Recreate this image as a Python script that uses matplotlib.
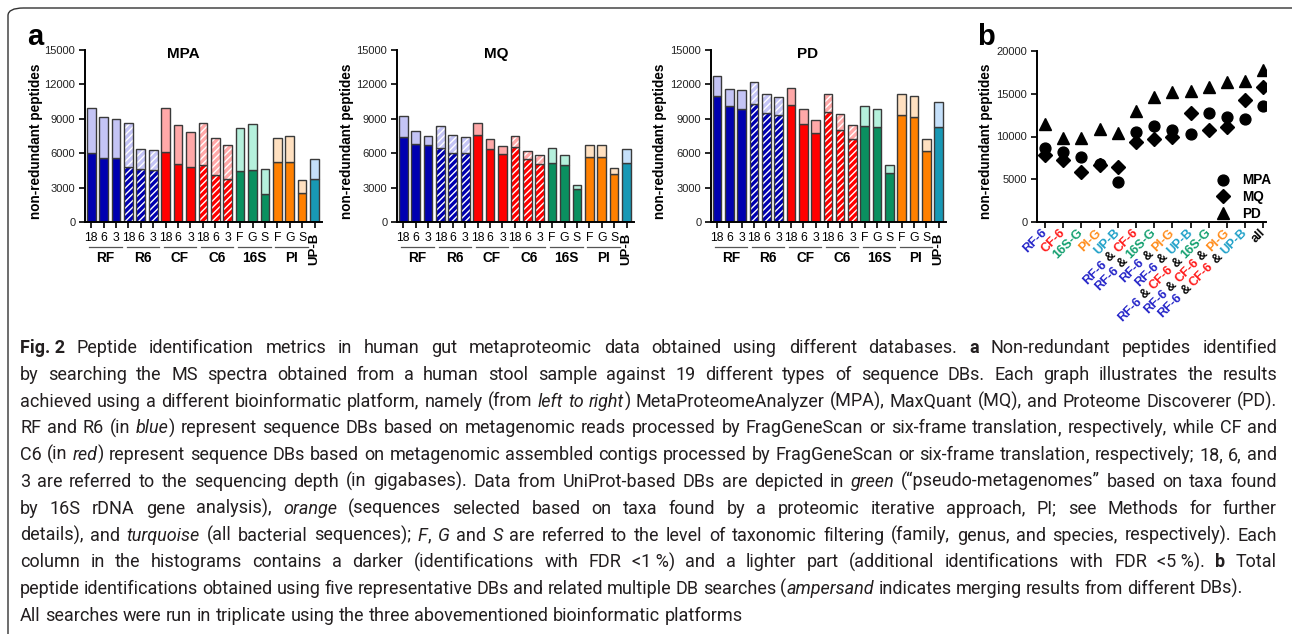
import matplotlib
matplotlib.use("Agg")
import matplotlib.pyplot as plt
from matplotlib import font_manager
from matplotlib.patches import FancyBboxPatch
import numpy as np

W, H = 1292, 634

# ---- panel a data (non-redundant peptides, FDR<5% total and FDR<1% part) ----
sub_labels = ["18", "6", "3", "18", "6", "3", "18", "6", "3", "18", "6", "3",
              "F", "G", "S", "F", "G", "S", ""]
groups = ["RF", "R6", "CF", "C6", "16S", "PI"]
group_start = [0, 3, 6, 9, 12, 15]

mpa_total = [9980, 9190, 9020, 8670, 6390, 6270, 9980, 8490, 7820, 8640, 7300, 6710,
             8200, 8520, 4580, 7350, 7470, 3650, 5520]
mpa_fdr1 = [6040, 5540, 5540, 4760, 4610, 4550, 6130, 5080, 4790, 4990, 4110, 3760,
            4490, 4550, 2480, 5190, 5250, 2510, 3710]

mq_total = [9220, 7940, 7500, 8350, 7620, 7410, 8640, 7210, 6620, 7530, 6220, 5810,
            6420, 5840, 3240, 6710, 6710, 4670, 6360]
mq_fdr1 = [7380, 6770, 6680, 6450, 6010, 5980, 7620, 6330, 5890, 6570, 5490, 5080,
           5140, 4990, 2860, 5660, 5660, 4170, 5140]

pd_total = [12690, 11610, 11470, 12230, 11120, 10940, 11700, 9890, 8870, 11200, 9430, 8490,
            10100, 9890, 4990, 11150, 10970, 7240, 10500]
pd_fdr1 = [10970, 10100, 9860, 10330, 9540, 9310, 10240, 8550, 7760, 9630, 8050, 7210,
           8370, 8260, 4230, 9310, 9160, 6190, 8320]

# ---- panel b data ----
b_mpa = [8680, 8140, 7560, 6750, 4650, 10540, 11240, 10780, 10270, 12790, 12330, 12020, 13570]
b_mq = [7870, 7210, 5810, 6670, 6400, 9340, 9730, 10000, 12790, 10780, 11090, 14260, 15810]
b_pd = [11510, 9770, 9810, 10850, 10390, 12980, 14650, 15230, 15350, 15780, 16320, 16470, 17750]

BLUE, RED, GREEN, ORANGE, TEAL, BLACK = "#2424c8", "#ff1a1a", "#14a070", "#ff8c1a", "#1ea0c8", "#000000"
b_labels = [
    [("RF-6", BLUE)], [("CF-6", RED)], [("16S-G", GREEN)], [("PI-G", ORANGE)], [("UP-B", TEAL)],
    [("RF-6", BLUE), ("&", BLACK), ("CF-6", RED)],
    [("RF-6", BLUE), ("&", BLACK), ("16S-G", GREEN)],
    [("RF-6", BLUE), ("&", BLACK), ("PI-G", ORANGE)],
    [("RF-6", BLUE), ("&", BLACK), ("UP-B", TEAL)],
    [("RF-6", BLUE), ("&", BLACK), ("CF-6", RED), ("&", BLACK), ("16S-G", GREEN)],
    [("RF-6", BLUE), ("&", BLACK), ("CF-6", RED), ("&", BLACK), ("PI-G", ORANGE)],
    [("RF-6", BLUE), ("&", BLACK), ("CF-6", RED), ("&", BLACK), ("UP-B", TEAL)],
    [("all", BLACK)],
]

# dark (FDR<1%) / light colours per bar, hatch for six-frame DBs
dark_cols = ["#0000b0"] * 6 + ["#ff0000"] * 6 + ["#0a9060"] * 3 + ["#ff8000"] * 3 + ["#1898b5"]
light_cols = ["#c4c4f5"] * 6 + ["#ffa8a8"] * 6 + ["#b5f0dc"] * 3 + ["#ffe0c0"] * 3 + ["#c5e0fa"]
hatched = [False] * 3 + [True] * 3 + [False] * 3 + [True] * 3 + [False] * 7

plt.rcParams['font.family'] = ['Liberation Sans', 'DejaVu Sans']
EDGE = "#3a3a3a"

fig = plt.figure(figsize=(W / 100, H / 100), dpi=100)


def add_ax(l, t, r, b):
    return fig.add_axes([l / W, 1 - b / H, (r - l) / W, (b - t) / H])


def style_axes(ax):
    for s in ("top", "right"):
        ax.spines[s].set_visible(False)
    for s in ("left", "bottom"):
        ax.spines[s].set_linewidth(1.4)
    ax.tick_params(length=4.5, width=1.2, labelsize=8, colors="black")
    ax.tick_params(axis="y", labelcolor="#222222", pad=2.5)


def bar_panel(ax, total, fdr1):
    x = np.arange(len(total))
    light = np.array(total) - np.array(fdr1)
    for i in x:
        for bottom, h, col in ((0, fdr1[i], dark_cols[i]), (fdr1[i], light[i], light_cols[i])):
            if hatched[i]:
                ax.bar(i, h, bottom=bottom, width=0.7, color=col, hatch="/////",
                       edgecolor="white", linewidth=0)
                ax.bar(i, h, bottom=bottom, width=0.7, fill=False, edgecolor=EDGE, linewidth=1.0)
            else:
                ax.bar(i, h, bottom=bottom, width=0.7, color=col, edgecolor=EDGE, linewidth=1.0)
    style_axes(ax)
    ax.set_xlim(-0.5, 18.6)
    ax.set_ylim(0, 15000)
    ax.set_yticks([0, 3000, 6000, 9000, 12000, 15000])
    ax.set_xticks(x, sub_labels, fontsize=8.8)
    ax.tick_params(axis="x", pad=3)
    tr = ax.get_xaxis_transform()
    for g, s in zip(groups, group_start):
        ax.plot([s - 0.15, s + 2.45], [-0.145, -0.145], color="#555555", lw=0.9,
                transform=tr, clip_on=False)
        ax.text(s + 1.15, -0.207, g, transform=tr, ha="center", va="center",
                fontsize=9.8, weight="bold")
    ax.text(18, -0.06, "UP-B", transform=tr, rotation=90, ha="center", va="top",
            fontsize=9.5, weight="bold")


panels = [
    ((85, 50, 322, 222), mpa_total, mpa_fdr1, "MPA", 183, 36),
    ((397, 50, 634, 222), mq_total, mq_fdr1, "MQ", 496, 347),
    ((711, 50, 946, 222), pd_total, pd_fdr1, "PD", 808, 660),
]
for box, tot, f1, title, tx, ylx in panels:
    ax = add_ax(*box)
    bar_panel(ax, tot, f1)
    fig.text(tx / W, 1 - 54 / H, title, ha="center", va="center", fontsize=11, weight="bold")
    fig.text(ylx / W, 1 - 141 / H, "non-redundant peptides", rotation=90, ha="center",
             va="center", fontsize=9.8, weight="bold")

fig.text(35 / W, 1 - 37 / H, "a", ha="center", va="center", fontsize=21, weight="bold")
fig.text(986 / W, 1 - 37 / H, "b", ha="center", va="center", fontsize=21, weight="bold")

# ---- panel b ----
axb = add_ax(1037, 51, 1266, 222)
xb = np.arange(len(b_mpa))
axb.plot(xb, b_mpa, "o", color="black", ms=7.8, label="MPA")
axb.plot(xb, b_mq, "D", color="black", ms=7.0, label="MQ")
axb.plot(xb, b_pd, "^", color="black", ms=8.4, label="PD")
style_axes(axb)
axb.set_xlim(-0.44, 12.14)
axb.set_ylim(0, 20000)
axb.set_yticks([0, 5000, 10000, 15000, 20000])
axb.set_xticks(xb, [""] * len(xb))
fig.text(986 / W, 1 - 141 / H, "non-redundant peptides", rotation=90, ha="center",
         va="center", fontsize=9.8, weight="bold")
leg = axb.legend(loc="center left", bbox_to_anchor=((1208 - 1037) / 229, (222 - 197) / 171),
                 frameon=False, handlelength=1.2, handletextpad=0.8, labelspacing=0.2,
                 borderpad=0, prop={"weight": "bold", "size": 9.8})

renderer = fig.canvas.get_renderer()


def text_width(s, **kw):
    t = fig.text(0, 0, s, **kw)
    w = t.get_window_extent(renderer).width
    t.remove()
    return w


lab_kw = dict(fontsize=9.2, weight="bold")
space_w = text_width("a a", **lab_kw) - text_width("aa", **lab_kw)
c45 = np.cos(np.radians(45))
for i, parts in enumerate(b_labels):
    offset = 0.0
    for s, col in reversed(parts):
        axb.annotate(s, xy=(i, 0), xycoords="data", xytext=(-offset * c45, -9 - offset * c45),
                     textcoords="offset pixels", rotation=45, rotation_mode="anchor",
                     ha="right", va="center", color=col, annotation_clip=False, **lab_kw)
        offset += text_width(s, **lab_kw) + space_w

# ---- frame ----
frame = FancyBboxPatch((8 / W, 1 - 660 / H), 1320 / W, 652 / H, boxstyle="round,pad=0,rounding_size=0.012",
                       transform=fig.transFigure, fill=False, edgecolor="#333333", lw=1.0)
fig.patches.append(frame)

# ---- caption (justified) ----
caption = [
    ("#Fig.\u00a02# Peptide identification metrics in human gut metaproteomic data obtained using different databases. #a# Non-redundant peptides identified", 1277),
    ("by searching the MS spectra obtained from a human stool sample against 19 different types of sequence DBs. Each graph illustrates the results", 1277),
    ("achieved using a different bioinformatic platform, namely (from *left to right*) MetaProteomeAnalyzer (MPA), MaxQuant (MQ), and Proteome Discoverer (PD).", 1277),
    ("RF and R6 (in *blue*) represent sequence DBs based on metagenomic reads processed by FragGeneScan or six-frame translation**, respectively, while CF and", 1277),
    ("C6 (in *red*) represent sequence DBs based on metagenomic assembled contigs processed by FragGeneScan or six-frame translation**, respectively; 18, 6, and", 1277),
    ("3 are referred to the sequencing depth (in gigabases). Data from UniProt-based DBs are depicted in *green* (\u201cpseudo-metagenomes\u201d based on taxa found", 1277),
    ("by 16S rDNA gene analysis), *orange* (sequences selected based on taxa found by a proteomic iterative approach, PI; see Methods for further", 1277),
    ("details), and *turquoise* (all bacterial sequences); *F*, *G* and *S* are referred to the level of taxonomic filtering (family, genus, and species, respectively). Each", 1277),
    ("column in the histograms contains a darker (identifications with FDR <1\u00a0%) and a lighter part (additional identifications with FDR <5\u00a0%). #b# Total", 1277),
    ("peptide identifications obtained using five representative DBs and related multiple DB searches (*ampersand* indicates merging results from different DBs).", 1243),
    ("All searches were run in triplicate using the three abovementioned bioinformatic platforms", None),
]


def parse_words(line):
    italic = bold = False
    words = []
    for word in line.split(" "):
        chunks, cur = [], ""
        for ch in word:
            if ch in "*#":
                if cur:
                    chunks.append((cur, italic, bold))
                cur = ""
                if ch == "*":
                    italic = not italic
                else:
                    bold = not bold
            else:
                cur += ch
        if cur:
            chunks.append((cur, italic, bold))
        words.append(chunks)
    return words


installed = {f.name for f in font_manager.fontManager.ttflist}
CAP_FONT = "Roboto" if "Roboto" in installed else "Lato"


def cap_kw(it, bo, size):
    return dict(family=CAP_FONT, fontsize=size, style="italic" if it else "normal",
                weight="bold" if bo else "normal", color="#231f20")


def space_width(size):
    return text_width("a a", **cap_kw(False, False, size)) - text_width("aa", **cap_kw(False, False, size))


def natural_width(line, size, squeeze=0.85):
    words = parse_words(line)
    total = sum(text_width(c, **cap_kw(it, bo, size)) for w in words for c, it, bo in w)
    return total + squeeze * space_width(size) * (len(words) - 1)


x0 = 20
size = 13.0
widest = max(natural_width(l, size) / ((r or 1277) - x0) for l, r in caption)
size = min(size, size / widest)

for k, (line, right) in enumerate(caption):
    words = parse_words(line)
    widths = [[text_width(c, **cap_kw(it, bo, size)) for c, it, bo in w] for w in words]
    if right is not None:
        gap = (right - x0 - sum(sum(w) for w in widths)) / (len(words) - 1)
    else:
        gap = space_width(size)
    y = 353 + 26.8 * k
    x = x0
    for w, ws in zip(words, widths):
        for (c, it, bo), cw in zip(w, ws):
            fig.text(x / W, 1 - y / H, c, ha="left", va="baseline", **cap_kw(it, bo, size))
            x += cw
        x += gap

fig.savefig("out.png", dpi=100)
